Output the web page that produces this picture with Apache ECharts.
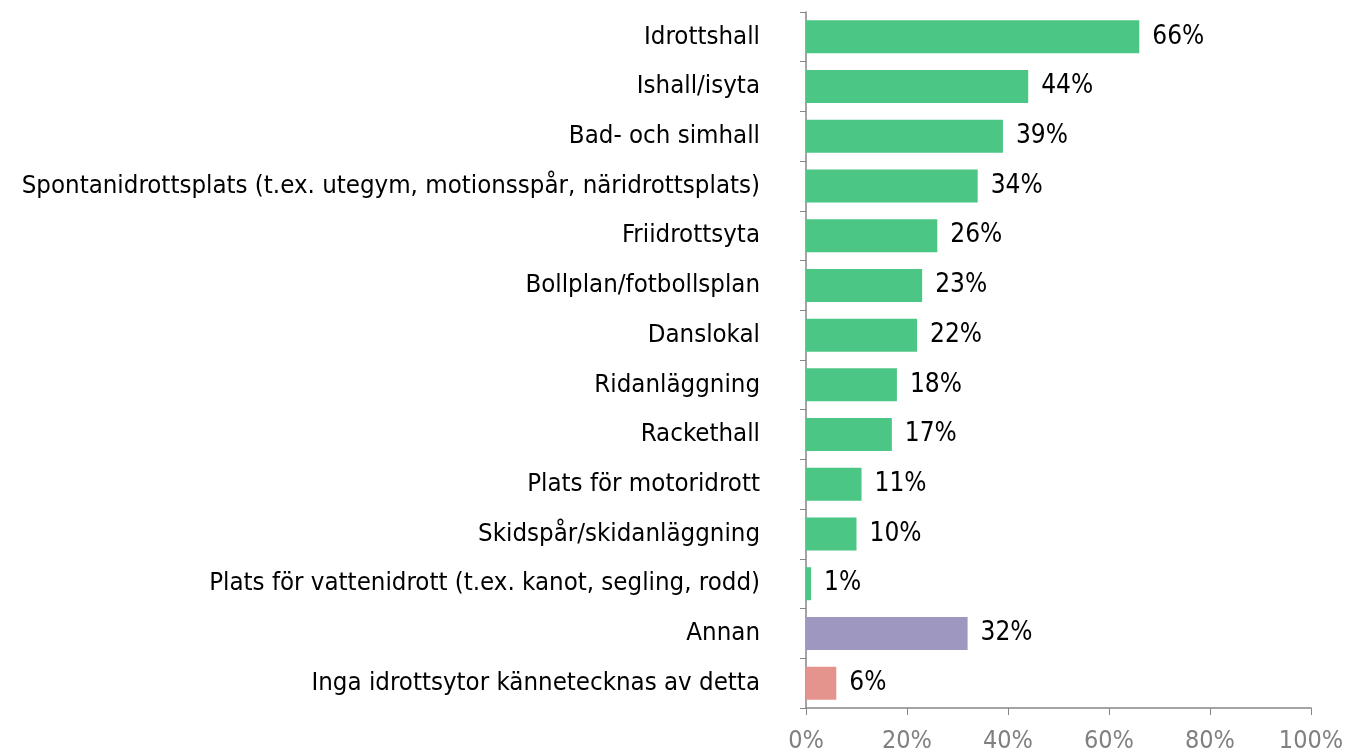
<!DOCTYPE html>
<html>
<head>
<meta charset="utf-8">
<script src="https://cdn.jsdelivr.net/npm/echarts@6/dist/echarts.min.js"></script>
<style>
  html, body { margin: 0; padding: 0; background: #fff; }
  #chart { width: 1346px; height: 751px; }
</style>
</head>
<body>
<div id="chart"></div>
<script>
  // kategorier, uppifrån och ned
  var categories = [
    'Idrottshall',
    'Ishall/isyta',
    'Bad- och simhall',
    'Spontanidrottsplats (t.ex. utegym, motionsspår, näridrottsplats)',
    'Friidrottsyta',
    'Bollplan/fotbollsplan',
    'Danslokal',
    'Ridanläggning',
    'Rackethall',
    'Plats för motoridrott',
    'Skidspår/skidanläggning',
    'Plats för vattenidrott (t.ex. kanot, segling, rodd)',
    'Annan',
    'Inga idrottsytor kännetecknas av detta'
  ];
  var values = [66, 44, 39, 34, 26, 23, 22, 18, 17, 11, 10, 1, 32, 6];
  var barColors = ['#4bc684', '#4bc684', '#4bc684', '#4bc684', '#4bc684', '#4bc684', '#4bc684',
                   '#4bc684', '#4bc684', '#4bc684', '#4bc684', '#4bc684', '#9e97c0', '#e5938d'];
  var xTicks = [0, 20, 40, 60, 80, 100];

  var font = '"DejaVu Sans Condensed", "DejaVu Sans", sans-serif';
  var chart = echarts.init(document.getElementById('chart'));
  var option = {
    animation: false,
    grid: { left: 806, right: 35, top: 12, bottom: 43, containLabel: false, outerBoundsMode: 'none' },
    xAxis: {
      type: 'value',
      min: xTicks[0],
      max: xTicks[xTicks.length - 1],
      interval: 20,
      splitLine: { show: false },
      axisLine: { show: true, lineStyle: { color: '#868686', width: 1.5 } },
      axisTick: { show: true, length: 7, lineStyle: { color: '#868686' } },
      axisLabel: { formatter: '{value}%', color: '#808080', fontSize: 25, fontFamily: font, margin: 21 }
    },
    yAxis: {
      type: 'category',
      inverse: true,
      data: categories,
      axisLine: { show: true, lineStyle: { color: '#868686', width: 1.5 } },
      axisTick: { show: true, length: 6, alignWithLabel: false, lineStyle: { color: '#868686' } },
      axisLabel: { color: '#000', fontSize: 25.6, fontFamily: font, margin: 46 }
    },
    series: [{
      type: 'bar',
      data: values.map(function (v, i) {
        return { value: v, itemStyle: { color: barColors[i] } };
      }),
      barWidth: 33,
      label: {
        show: true,
        position: 'right',
        distance: 13,
        formatter: '{c}%',
        color: '#000',
        fontSize: 26,
        fontFamily: font
      }
    }]
  };
  chart.setOption(option);
</script>
</body>
</html>
